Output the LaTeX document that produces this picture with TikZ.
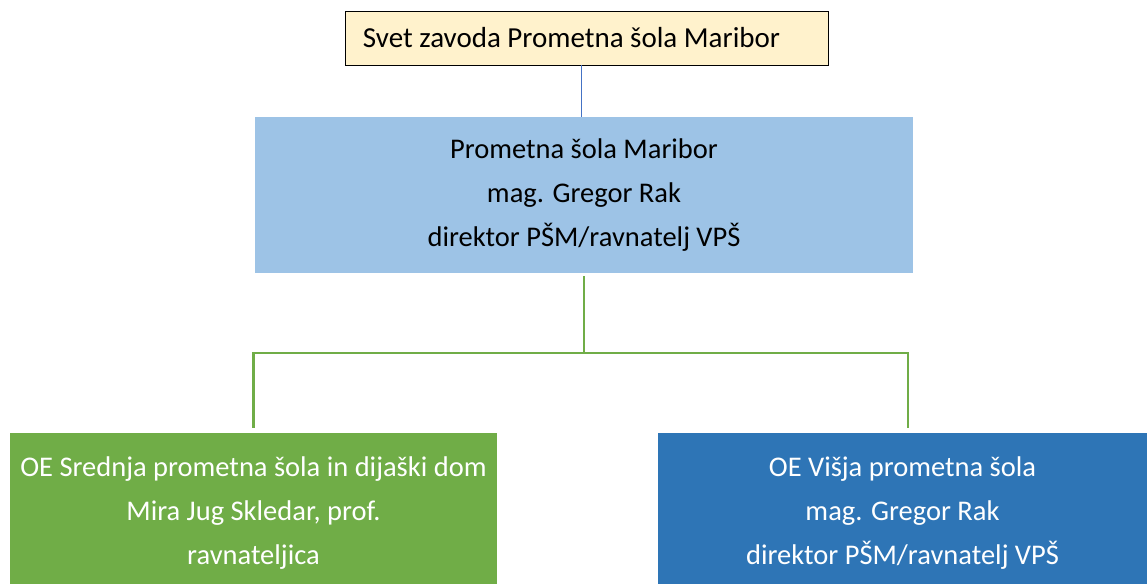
\documentclass[tikz,border=0pt]{standalone}
\usepackage{fontspec}
\setmainfont{Carlito}
\definecolor{topfill}{HTML}{FFF2CC}
\definecolor{midfill}{HTML}{9DC3E6}
\definecolor{greenfill}{HTML}{70AD47}
\definecolor{bluefill}{HTML}{2E75B6}
\definecolor{topline}{HTML}{4472C4}
\tikzset{
  box/.style={rectangle, inner sep=0pt, align=center, font=\fontsize{28.5}{44}\selectfont},
  greenline/.style={draw=greenfill, line width=2.2pt},
}
\begin{document}
\begin{tikzpicture}[x=1pt,y=-1pt]
\clip (0,0) rectangle (1147,583);
\useasboundingbox (0,0) rectangle (1147,583);
\node[box, draw=black, line width=0.8pt, fill=topfill, minimum width=483, minimum height=54, text=black, font=\fontsize{29}{36}\selectfont] (top) at (586.5,38) {\raisebox{-2pt}{Svet zavoda Prometna šola Maribor}\hspace*{30pt}};
\node[box, fill=midfill, minimum width=658, minimum height=156, text=black] (mid) at (584,195) {Prometna šola Maribor\\mag. Gregor Rak\\direktor PŠM/ravnatelj VPŠ};
\node[box, fill=greenfill, minimum width=487, minimum height=160, text=white] (left) at (253.5,513) {OE Srednja prometna šola in dijaški dom\\Mira Jug Skledar, prof.\\ravnateljica};
\node[box, fill=bluefill, minimum width=489, minimum height=160, text=white] (right) at (902.5,513) {OE Višja prometna šola\\mag. Gregor Rak\\direktor PŠM/ravnatelj VPŠ};
\coordinate (j) at (584,353);
\draw[topline, line width=1pt] ([xshift=-5.5pt]top.south) -- ([xshift=-5.5pt]top.south |- mid.north);
\draw[greenline, shorten <=3pt] (mid.south) -- (j);
\draw[greenline, shorten >=5pt] (j) -| (left.north);
\draw[greenline, shorten >=5pt] (j) -| ([xshift=5.5pt]right.north);
\end{tikzpicture}
\end{document}
